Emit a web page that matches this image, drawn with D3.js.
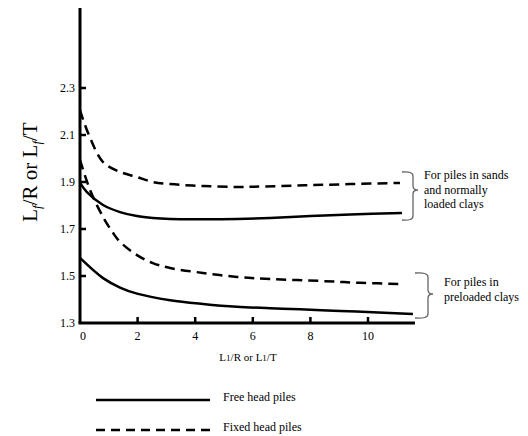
<!DOCTYPE html>
<html>
<head>
<meta charset="utf-8">
<script src="https://cdn.jsdelivr.net/npm/d3@7"></script>
<style>
  body { margin: 0; background: #fff; }
</style>
</head>
<body>
<svg id="chart" width="528" height="436" font-family="'Liberation Serif', 'DejaVu Serif', serif"></svg>
<script>
// values
var yTicks = [1.3, 1.5, 1.7, 1.9, 2.1, 2.3];
var xTicks = [0, 2, 4, 6, 8, 10];

// fixed head, sands / normally loaded clays
var fixedSandsX = [0, 0.28, 0.8, 1.39, 1.98, 2.53, 3.13, 4.27, 5.45, 6.35, 7.81, 9.38, 11.11];
var fixedSandsY = [2.206, 2.109, 1.985, 1.943, 1.921, 1.9, 1.891, 1.883, 1.879, 1.881, 1.886, 1.891, 1.896];

// free head, sands / normally loaded clays
var freeSandsX = [0, 0.24, 0.8, 1.39, 1.98, 2.53, 3.13, 4.27, 5.45, 6.6, 8.0, 9.38, 11.18];
var freeSandsY = [1.896, 1.857, 1.802, 1.772, 1.755, 1.747, 1.743, 1.742, 1.743, 1.747, 1.755, 1.762, 1.768];

// fixed head, preloaded clays
var fixedPreX = [0, 0.35, 0.8, 1.15, 1.39, 1.98, 2.53, 3.13, 4.27, 5.45, 6.6, 8.33, 9.72, 11.2];
var fixedPreY = [1.994, 1.866, 1.751, 1.683, 1.645, 1.589, 1.555, 1.534, 1.513, 1.496, 1.487, 1.479, 1.471, 1.466];

// free head, preloaded clays
var freePreX = [0, 0.8, 1.39, 1.98, 3.13, 4.27, 5.45, 6.6, 7.64, 9.03, 10.17, 11.56];
var freePreY = [1.577, 1.491, 1.451, 1.425, 1.397, 1.381, 1.369, 1.363, 1.358, 1.351, 1.346, 1.338];

var legendLabels = ["Free head piles", "Fixed head piles"];
var sandsNote = ["For piles in sands", "and normally", "loaded clays"];
var preNote = ["For piles in", "preloaded clays"];

var svg = d3.select("#chart");

var x = d3.scaleLinear().domain([0, 10]).range([80, 368]);
var y = d3.scaleLinear().domain([1.3, 2.3]).range([323, 88]);

var xMax = 11.63, yMax = 2.64;

//************************ axes *************************/
var g = svg.append("g");

g.append("line")
  .attr("x1", x(0)).attr("x2", x(0))
  .attr("y1", y(1.3)).attr("y2", y(yMax))
  .attr("stroke", "#000").attr("stroke-width", 3);

g.append("line")
  .attr("x1", x(0) - 1.5).attr("x2", x(xMax))
  .attr("y1", y(1.3)).attr("y2", y(1.3))
  .attr("stroke", "#000").attr("stroke-width", 3);

g.selectAll(".ytick")
  .data(yTicks.slice(1))
  .enter().append("line")
  .attr("x1", x(0)).attr("x2", x(0) + 6)
  .attr("y1", d => y(d)).attr("y2", d => y(d))
  .attr("stroke", "#000").attr("stroke-width", 2.5);

g.selectAll(".ylab")
  .data(yTicks)
  .enter().append("text")
  .attr("x", 75)
  .attr("y", d => y(d) + 4)
  .attr("text-anchor", "end")
  .attr("font-size", 12)
  .text(d => d3.format(".1f")(d));

g.selectAll(".xtick")
  .data(xTicks.slice(1))
  .enter().append("line")
  .attr("x1", d => x(d)).attr("x2", d => x(d))
  .attr("y1", y(1.3)).attr("y2", y(1.3) - 6)
  .attr("stroke", "#000").attr("stroke-width", 2.5);

g.selectAll(".xlab")
  .data(xTicks)
  .enter().append("text")
  .attr("x", d => x(d) + (d === 0 ? 3 : 0))
  .attr("y", 340)
  .attr("text-anchor", "middle")
  .attr("font-size", 12)
  .text(d => d);

// x title
var xt = g.append("text")
  .attr("x", 248).attr("y", 361)
  .attr("text-anchor", "middle")
  .attr("font-size", 11);
xt.append("tspan").text("L");
xt.append("tspan").attr("font-size", 9).text("1");
xt.append("tspan").text("/R or L");
xt.append("tspan").attr("font-size", 9).text("1");
xt.append("tspan").text("/T");

// y title
var yt = g.append("text")
  .attr("transform", "translate(37,172) rotate(-90)")
  .attr("text-anchor", "middle")
  .attr("font-size", 21);
yt.append("tspan").text("L");
yt.append("tspan").attr("dy", 4).attr("font-size", 13).attr("font-style", "italic").text("f");
yt.append("tspan").attr("dy", -4).text("/R or L");
yt.append("tspan").attr("dy", 4).attr("font-size", 13).attr("font-style", "italic").text("f");
yt.append("tspan").attr("dy", -4).text("/T");

//************************ curves *************************/
var line = d3.line()
  .x(d => x(d[0]))
  .y(d => y(d[1]))
  .curve(d3.curveCatmullRom.alpha(0.5));

var series = [
  {xs: fixedSandsX, ys: fixedSandsY, dash: "10,6"},
  {xs: freeSandsX, ys: freeSandsY, dash: null},
  {xs: fixedPreX, ys: fixedPreY, dash: "10,6"},
  {xs: freePreX, ys: freePreY, dash: null}
];

svg.append("g").selectAll("path")
  .data(series)
  .enter().append("path")
  .attr("d", s => line(d3.zip(s.xs, s.ys)))
  .attr("fill", "none")
  .attr("stroke", "#000")
  .attr("stroke-width", 2.5)
  .attr("stroke-dasharray", s => s.dash);

//************************ braces + notes *************************/
function brace(xv, top, bottom, tipY, left) {
  var p = d3.path();
  p.moveTo(left, top);
  p.quadraticCurveTo(xv, top - 1, xv, top + 4);
  p.lineTo(xv, tipY - 4);
  p.quadraticCurveTo(xv, tipY, xv + 5, tipY);
  p.quadraticCurveTo(xv, tipY, xv, tipY + 4);
  p.lineTo(xv, bottom - 4);
  p.quadraticCurveTo(xv, bottom + 1, left, bottom);
  svg.append("path")
    .attr("d", p.toString())
    .attr("fill", "none")
    .attr("stroke", "#666")
    .attr("stroke-width", 1.3);
}

brace(413, 172, 220, 190, 402);
brace(428, 273, 318, 294, 415);

svg.append("g").selectAll("text")
  .data(sandsNote)
  .enter().append("text")
  .attr("x", 424)
  .attr("y", (d, i) => 179 + i * 14.5)
  .attr("font-size", 12)
  .text(d => d);

svg.append("g").selectAll("text")
  .data(preNote)
  .enter().append("text")
  .attr("x", 444)
  .attr("y", (d, i) => 286 + i * 14.5)
  .attr("font-size", 12)
  .text(d => d);

//************************ legend *************************/
var legend = svg.append("g").selectAll("g")
  .data(legendLabels)
  .enter().append("g")
  .attr("transform", (d, i) => "translate(0," + (400 + i * 30) + ")");

legend.append("line")
  .attr("x1", 96).attr("x2", 210)
  .attr("stroke", "#000")
  .attr("stroke-width", 2.5)
  .attr("stroke-dasharray", (d, i) => i ? "9,6" : null);

legend.append("text")
  .attr("x", 223)
  .attr("y", 1)
  .attr("font-size", 12)
  .text(d => d);
</script>
</body>
</html>
